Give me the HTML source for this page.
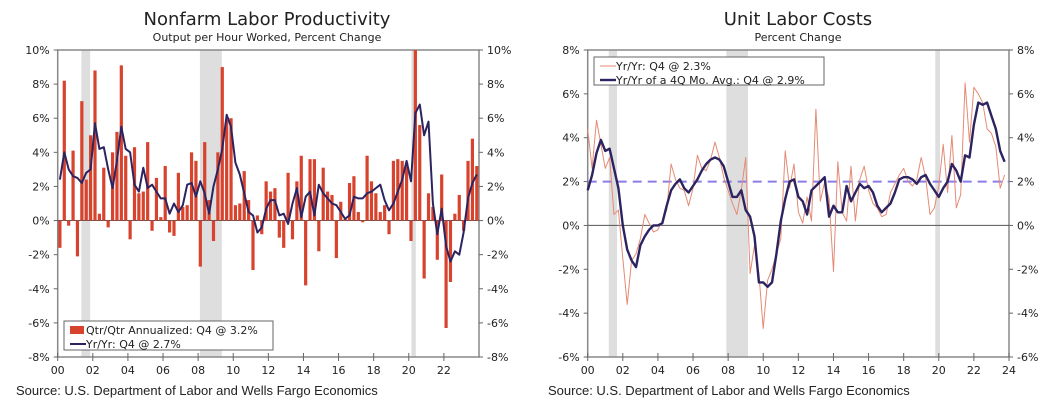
<!DOCTYPE html>
<html><head><meta charset="utf-8"><style>
body{margin:0;background:#fff;width:1062px;height:407px;overflow:hidden}
svg{display:block}
.t{font-family:"DejaVu Sans",Verdana,sans-serif;fill:#222}
.src{font-family:"Liberation Sans",Arial,sans-serif;font-size:13px;fill:#222}
</style></head><body>
<svg id="c" width="1062" height="407"></svg>
<script>
const quarters = 96;
const prodQoQ = [-1.6,8.2,-0.3,4.1, -2.1,7.0,2.4,5.0, 8.8,0.4,3.1,-0.4, 4.0,5.2,9.1,3.8, -1.1,4.3,1.6,1.7, 4.6,-0.6,2.5,0.2, 3.2,-0.7,-0.9,2.8, 0.8,0.9,4.0,3.5, -2.7,4.6,1.2,-1.2, 4.0,9.0,5.9,6.0, 0.9,1.0,2.9,1.2, -2.9,0.3,-0.8,2.3, 1.7,1.9,-1.0,-1.6, 2.8,-1.1,2.3,3.8, -3.8,3.6,3.6,-1.8, 3.1,1.7,1.5,-2.2, 1.1,0.1,2.2,2.6, 0.5,-0.1,3.8,2.3, 1.6,0.5,0.9,-0.8, 3.5,3.6,3.5,3.4, -1.2,10.5,5.6,-3.4, 1.6,0.8,-2.3,2.7, -6.3,-3.6,0.4,1.5, -0.6,3.5,4.8,3.2];
const prodYoY = [2.4,4.0,3.0,2.6, 2.5,2.2,2.8,3.0, 5.7,4.2,4.3,3.0, 1.9,3.5,5.5,4.2, 4.0,2.1,1.7,3.1, 1.9,2.1,1.7,1.3, 1.3,0.4,1.0,0.5, 0.9,2.1,2.2,1.4, 2.3,1.6,0.4,2.0, 3.0,4.2,6.2,5.5, 3.4,2.7,1.6,0.5, 0.3,-0.7,-0.4,0.7, 1.2,1.2,0.3,0.4, -0.2,1.0,1.9,0.2, 1.4,1.7,0.3,2.1, 1.6,1.3,1.0,0.9, 0.5,0.1,0.3,1.4, 1.3,1.3,1.6,1.7, 1.9,2.1,1.2,0.6, 1.0,1.7,2.4,3.5, 2.3,6.3,6.8,5.0, 5.8,1.0,-0.8,0.7, -1.5,-2.4,-1.8,-2.0, -0.7,1.3,2.2,2.7];
const ulcYoY = [4.4,2.6,4.8,3.7, 2.6,3.1,0.5,0.7, -1.5,-3.6,-1.6,-1.3, -0.6,0.5,0.1,-0.3, -0.2,0.2,0.7,2.8, 2.1,1.7,1.6,0.9, 1.7,3.2,2.6,2.5, 3.0,3.8,3.1,2.2, 1.6,1.0,0.5,1.6, 3.1,-2.2,-0.9,-2.2, -4.7,-2.5,-2.0,-1.3, -0.6,3.4,1.7,2.8, 0.6,0.1,1.3,0.2, 5.3,1.1,2.0,1.2, -2.1,2.9,0.6,0.2, 2.7,0.2,2.1,2.7, 1.6,1.0,0.8,0.4, 0.5,1.5,1.9,2.3, 2.6,2.0,1.8,2.1, 3.1,2.2,0.5,0.8, 1.8,3.7,1.5,4.1, 0.8,1.4,6.5,3.8, 6.3,6.0,5.6,4.4, 4.2,3.6,1.7,2.3];
const ulcAvg = [1.6,2.3,3.3,3.9, 3.4,3.5,2.6,1.7, 0.0,-1.1,-1.6,-1.9, -0.9,-0.5,-0.2,0.0, 0.0,0.1,0.9,1.6, 1.9,2.1,1.7,1.5, 1.8,2.1,2.5,2.8, 3.0,3.1,3.0,2.7, 2.0,1.3,1.3,1.6, 0.7,0.4,-0.5,-2.6, -2.6,-2.8,-2.6,-1.3, 0.2,1.2,2.0,2.1, 1.3,1.1,0.5,1.6, 1.8,2.0,2.2,0.4, 0.9,0.6,0.6,1.8, 1.1,1.5,1.9,1.7, 1.8,1.5,0.9,0.6, 0.8,1.0,1.5,2.1, 2.2,2.2,2.1,1.9, 2.2,2.3,1.9,1.6, 1.3,1.7,2.0,2.8, 2.5,2.0,3.2,3.1, 4.6,5.6,5.5,5.6, 5.0,4.4,3.4,2.9];
const leftTicks = [10,8,6,4,2,0,-2,-4,-6,-8];
const rightTicks = [8,6,4,2,0,-2,-4,-6];
const leftYears = ["00","02","04","06","08","10","12","14","16","18","20","22"];
const rightYears = ["00","02","04","06","08","10","12","14","16","18","20","22","24"];
const recessionsLeft = [[2001.35,2001.85],[2008.1,2009.35],[2020.15,2020.4]];
const recessionsRight = [[2001.2,2001.67],[2007.9,2009.13],[2019.8,2020.07]];

const NS="http://www.w3.org/2000/svg";
const svg=document.getElementById('c');
function mk(tag,attrs,parent){const e=document.createElementNS(NS,tag);for(const k in attrs)e.setAttribute(k,attrs[k]);(parent||svg).appendChild(e);return e;}

function panel(cfg){
  const g=mk('g',{});
  
  
  const {x0,x1,y0,y1,ymax,ymin,t0,t1}=cfg;
  const ys=v=>y0+(ymax-v)/(ymax-ymin)*(y1-y0);
  const xt=t=>x0+(t-t0)/(t1-t0)*(x1-x0);
  cfg.rec.forEach(r=>{const e=mk('rect',{x:xt(r[0]),y:y0,width:xt(r[1])-xt(r[0]),height:y1-y0,fill:'#dedede'},g);
    });
  const fr=mk('rect',{x:x0,y:y0,width:x1-x0,height:y1-y0,fill:'none',stroke:'#888','stroke-width':1.5},g);
  
  cfg.ticks.forEach(v=>{
    const y=ys(v);
    mk('line',{x1:x0-4,x2:x0,y1:y,y2:y,stroke:'#666'},g);
    mk('line',{x1:x1,x2:x1+4,y1:y,y2:y,stroke:'#666'},g);
    const a=mk('text',{x:x0-8,y:y+4,'text-anchor':'end','font-size':11,class:'t'},g);a.textContent=v+'%';
    
    const b=mk('text',{x:x1+8,y:y+4,'font-size':11,class:'t'},g);b.textContent=v+'%';
    
  });
  const z=mk('line',{x1:x0,x2:x1,y1:ys(0),y2:ys(0),stroke:'#555','stroke-width':1},g);
  
  cfg.years.forEach((lab,i)=>{
    const x=xt(t0+2*i);
    mk('line',{x1:x,x2:x,y1:y1,y2:y1+4,stroke:'#666'},g);
    mk('line',{x1:x,x2:x,y1:y1-4,y2:y1,stroke:'#666'},g);
    const e=mk('text',{x:x,y:y1+17,'text-anchor':'middle','font-size':11,class:'t'},g);e.textContent=lab;
    
  });
  return {g,ys,xt};
}

const L=panel({name:'productivity-chart',x0:57.7,x1:479,y0:50,y1:357,ymax:10,ymin:-8,t0:2000,t1:2024,ticks:leftTicks,years:leftYears,rec:recessionsLeft});
const qw=(479-57.7)/quarters;
prodQoQ.forEach((v,i)=>{
  const xc=L.xt(2000+i/4)+qw/2; const y=L.ys(Math.max(v,0)), h=Math.abs(L.ys(v)-L.ys(0));
  const ytop=Math.max(50,y);
  const b=mk('rect',{x:xc-1.6,y:ytop,width:3.2,height:Math.max(0,h-(ytop-y)),fill:'#d8432d'},L.g);
  
  
});
function line(arr,P,off,attrs,name){
  const pts=arr.map((v,i)=>(P.xt(2000+i/4)+off).toFixed(1)+','+P.ys(v).toFixed(1)).join(' ');
  const e=mk('polyline',Object.assign({points:pts,fill:'none','stroke-linejoin':'round'},attrs),P.g);
  
  
}
line(prodYoY,L,qw/2,{stroke:'#2b2461','stroke-width':2},'line-yoy-productivity');

const R=panel({name:'unit-labor-costs-chart',x0:587.7,x1:1009,y0:50,y1:357,ymax:8,ymin:-6,t0:2000,t1:2024,ticks:rightTicks,years:rightYears,rec:recessionsRight});
const ref=mk('line',{x1:587.7,x2:1009,y1:R.ys(2),y2:R.ys(2),stroke:'#8a7de6','stroke-width':2,'stroke-dasharray':'9,6'},R.g);

line(ulcYoY,R,0,{stroke:'#e58a75','stroke-width':1},'line-ulc-yoy');
line(ulcAvg,R,0,{stroke:'#2b2461','stroke-width':2.4},'line-ulc-4q-avg');

function legend(x,y,w,h,items,name){
  const g=mk('g',{});
  mk('rect',{x,y,width:w,height:h,fill:'#fff',stroke:'#666'},g);
  items.forEach((it,i)=>{
    const yy=y+9+i*14;
    if(it.type==='bar') mk('rect',{x:x+6,y:yy-4,width:14,height:8,fill:it.c},g);
    else mk('line',{x1:x+6,x2:x+22,y1:yy,y2:yy,stroke:it.c,'stroke-width':it.w},g);
    const t=mk('text',{x:x+22,y:yy+4,'font-size':11,class:'t'},g);t.textContent=it.label;
    
  });
}
legend(64,321,209,29,[{type:'bar',c:'#d8432d',label:'Qtr/Qtr Annualized: Q4 @ 3.2%'},{type:'line',c:'#2b2461',w:2,label:'Yr/Yr: Q4 @ 2.7%'}],'legend-productivity');
legend(594,57,230,28,[{type:'line',c:'#e58a75',w:1,label:'Yr/Yr: Q4 @ 2.3%'},{type:'line',c:'#2b2461',w:2.4,label:'Yr/Yr of a 4Q Mo. Avg.: Q4 @ 2.9%'}],'legend-ulc');

function txt(x,y,s,cls,size,anchor,name){const e=mk('text',{x,y,class:cls,'font-size':size,'text-anchor':anchor});e.textContent=s;}
txt(267,25,'Nonfarm Labor Productivity','t',18,'middle','title-productivity');
txt(267,41,'Output per Hour Worked, Percent Change','t',11,'middle','subtitle-productivity');
txt(798,25,'Unit Labor Costs','t',18,'middle','title-ulc');
txt(798,41,'Percent Change','t',11,'middle','subtitle-ulc');
txt(16,395,'Source: U.S. Department of Labor and Wells Fargo Economics','src',13.5,'start','source-left');
txt(548,395,'Source: U.S. Department of Labor and Wells Fargo Economics','src',13.5,'start','source-right');
</script>
</body></html>
